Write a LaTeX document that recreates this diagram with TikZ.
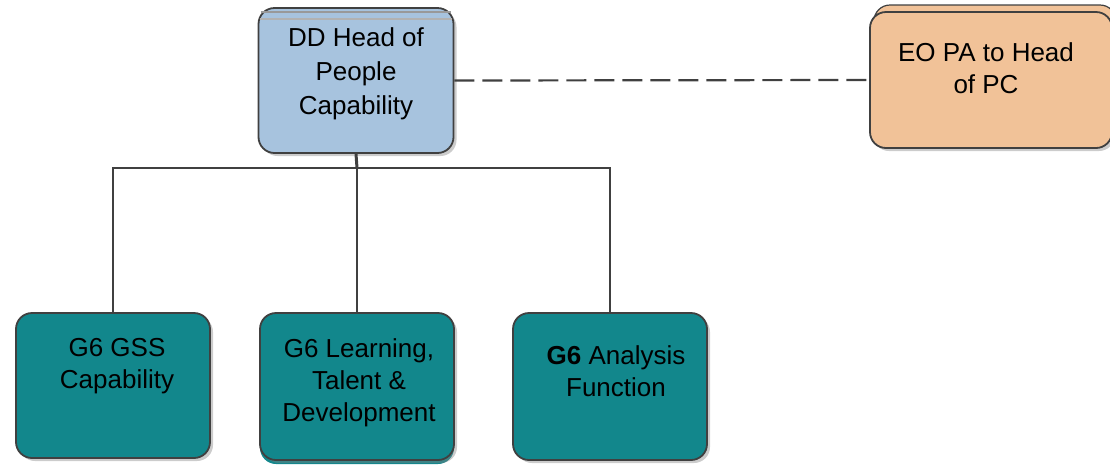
\documentclass[tikz,border=0pt]{standalone}
\usepackage{fontspec}
\setmainfont{Liberation Sans}
\usetikzlibrary{positioning,shadows}
\definecolor{capblue}{RGB}{167,195,222}
\definecolor{paorange}{RGB}{241,194,152}
\definecolor{gteal}{RGB}{18,135,140}
\definecolor{edgegrey}{RGB}{64,64,64}
\tikzset{
  box/.style={draw=edgegrey,line width=1.8pt,rounded corners=16pt,inner sep=0pt,
    minimum width=194pt,minimum height=145pt,
    drop shadow={shadow xshift=3pt,shadow yshift=-3pt,opacity=0.4}},
  backbox/.style={draw=edgegrey,line width=1.2pt,rounded corners=16pt,inner sep=0pt},
  txt/.style={font=\fontsize{26}{32}\selectfont,align=center,anchor=north,inner sep=0pt},
  link/.style={draw=edgegrey,line width=2.2pt},
  staff/.style={link,dash pattern=on 20pt off 8pt}
}
\begin{document}
\begin{tikzpicture}[x=1pt,y=-1pt]
\useasboundingbox (0,0) rectangle (1110,467);
% head of people capability
\node[box,fill=capblue,minimum width=195pt] (head) at (356,80.5) {};
\draw[gray!80,line width=1.5pt] ([xshift=3pt,yshift=-5pt]head.north west) -- ([xshift=-3pt,yshift=-5pt]head.north east);
\draw[gray!60,line width=1.5pt] ([xshift=2pt,yshift=-12pt]head.north west) -- ([xshift=-2pt,yshift=-12pt]head.north east);
\node[txt,font=\fontsize{26}{34}\selectfont] (headtxt) at (356,27) {DD Head of\\People\\Capability};
% PA
\node[backbox,fill=paorange,minimum width=242pt,minimum height=136pt] (paback) at (995,73) {};
\node[box,fill=paorange,minimum width=242pt,minimum height=136pt] (pa) at (991,80) {};
\node[txt] (patxt) at (986,42) {EO PA to Head\\of PC};
% G6 teams
\node[box,fill=gteal] (gss) at (113,385.5) {};
\node[txt] (gsstxt) at (117,338) {G6 GSS\\Capability};
\node[fill=gteal,rounded corners=16pt,minimum width=194pt,minimum height=145pt] (ltdback) at (357,391.5) {};
\node[box,fill=gteal,minimum height=147pt] (ltd) at (357,386.5) {};
\node[txt] (ltdtxt) at (359,338) {G6 Learning,\\Talent \&\\Development};
\node[box,fill=gteal,minimum height=147pt] (ana) at (610,386.5) {};
\node[txt] (anatxt) at (616,345) {\textbf{G6} Analysis\\Function};
% connectors
\coordinate (bus) at (357,168);
\draw[link,line width=3pt] (head.south) -- (bus);
\draw[link] (bus) -| (gss.north);
\draw[link] (bus) -| (ana.north);
\draw[link] (bus) -- (ltd.north);
\draw[staff] (head.east) -- (pa.west);
\end{tikzpicture}
\end{document}
